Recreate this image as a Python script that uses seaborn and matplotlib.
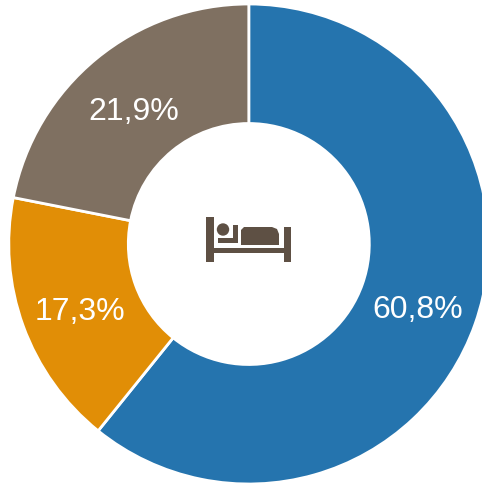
import matplotlib.pyplot as plt
import seaborn as sns
from matplotlib.patches import Rectangle, Circle, Polygon

labels = ['60,8%', '17,3%', '21,9%']
values = [60.8, 17.3, 21.9]
colors = ['#2574AE', '#E18E06', '#7F7061']

sns.set_theme(style='white')
plt.rcParams['font.family'] = ['Liberation Sans', 'DejaVu Sans']

fig = plt.figure(figsize=(4.82, 4.83), dpi=100)
ax = fig.add_axes([0, 0, 1, 1])

cx, cy, R = 248.8, 244, 240
# y axis is flipped below, so counterclockwise here reads clockwise on screen
ax.pie(values, colors=colors, startangle=-90, counterclock=True,
       center=(cx, cy), radius=R, frame=True,
       wedgeprops=dict(width=R - 120.5, edgecolor='white', linewidth=2))
ax.set_xlim(0, 482)
ax.set_ylim(483, 0)
ax.set_aspect('equal')
ax.axis('off')

ax.text(418, 310.5, labels[0], color='white', fontsize=23, ha='center', va='center')
ax.text(79.5, 311.5, labels[1], color='white', fontsize=23, ha='center', va='center')
ax.text(133.5, 111.5, labels[2], color='white', fontsize=23, ha='center', va='center')

# bed icon
icon = '#5E5044'
ax.add_patch(Rectangle((206, 217), 8, 45, color=icon, lw=0))
ax.add_patch(Rectangle((284, 227), 7, 35, color=icon, lw=0))
ax.add_patch(Rectangle((206, 248), 85, 4.5, color=icon, lw=0))
ax.add_patch(Circle((223, 229.5), 6.2, color=icon, lw=0))
ax.add_patch(Polygon([(241, 245), (241, 230), (244, 227), (272, 227), (277, 229),
                      (279, 234), (279, 245)], color=icon, lw=0))
ax.add_patch(Rectangle((218, 238), 20, 5, color=icon, lw=0))
ax.add_patch(Rectangle((233, 225), 5, 18, color=icon, lw=0))

plt.savefig('out.png', dpi=100)
